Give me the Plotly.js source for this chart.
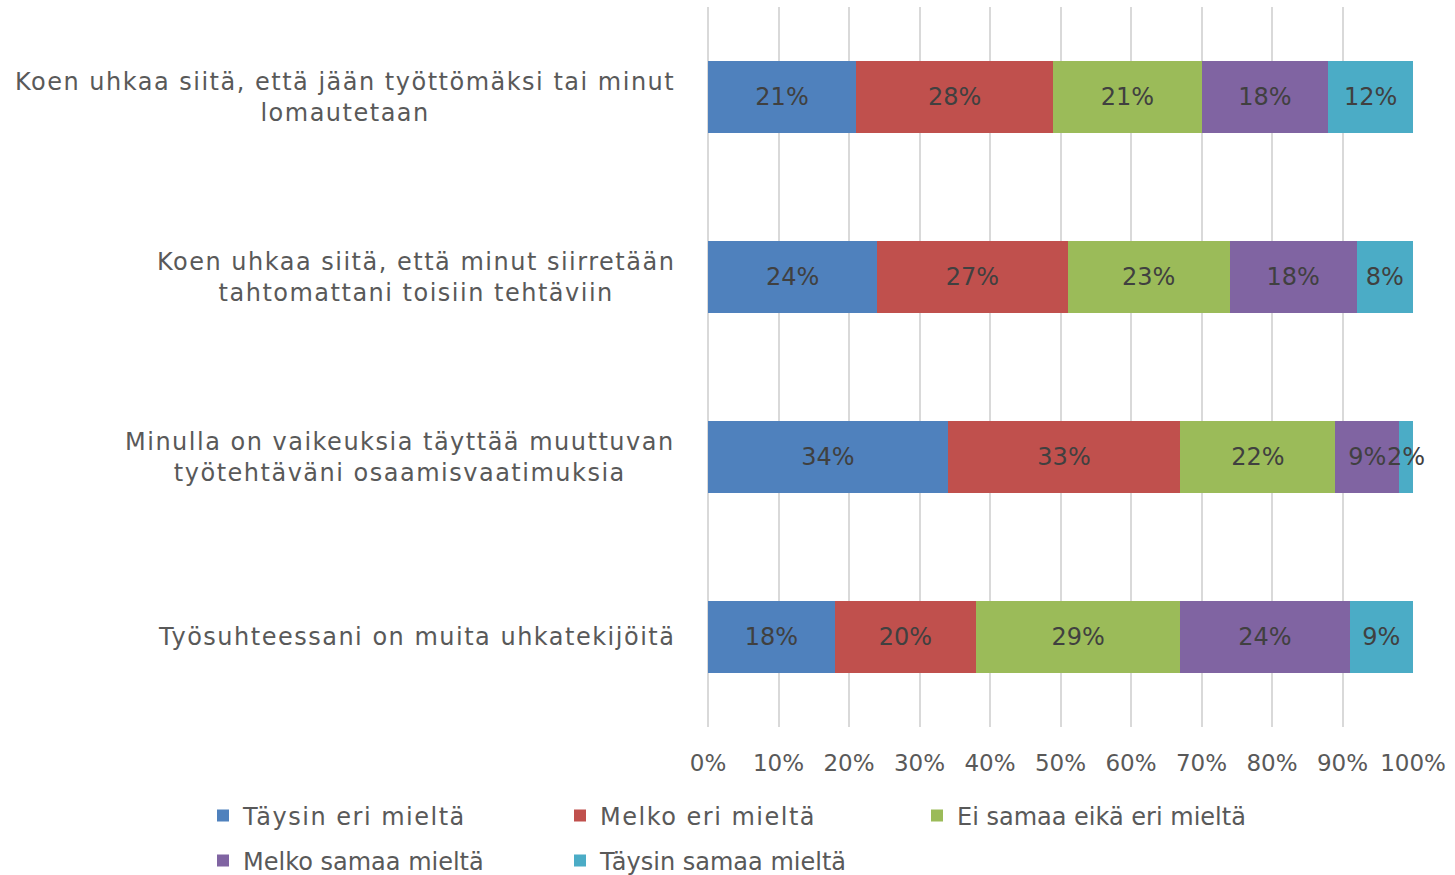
<!DOCTYPE html>
<html>
<head>
<meta charset="utf-8">
<script src="https://cdn.plot.ly/plotly-3.0.1.min.js"></script>
<style>
html,body{margin:0;padding:0;background:#fff;}
#chart{width:1455px;height:875px;}
.annotation-text, .legendtext { letter-spacing: 1.5px; }
</style>
</head>
<body>
<div id="chart"></div>
<script>
const categories = [
  "Koen uhkaa siitä, että jään työttömäksi tai minut<br>lomautetaan",
  "Koen uhkaa siitä, että minut siirretään<br>tahtomattani toisiin tehtäviin",
  "Minulla on vaikeuksia täyttää muuttuvan<br>työtehtäväni osaamisvaatimuksia",
  "Työsuhteessani on muita uhkatekijöitä"
];
const seriesNames = ["Täysin eri mieltä", "Melko eri mieltä", "Ei samaa eikä eri mieltä", "Melko samaa mieltä", "Täysin samaa mieltä"];
const taysinEri = [21, 24, 34, 18];
const melkoEri = [28, 27, 33, 20];
const eiSamaaEikaEri = [21, 23, 22, 29];
const melkoSamaa = [18, 18, 9, 24];
const taysinSamaa = [12, 8, 2, 9];
const tickValues = [0, 10, 20, 30, 40, 50, 60, 70, 80, 90, 100];
const tickLabels = ["0%", "10%", "20%", "30%", "40%", "50%", "60%", "70%", "80%", "90%", "100%"];

const seriesValues = [taysinEri, melkoEri, eiSamaaEikaEri, melkoSamaa, taysinSamaa];
const colors = ["#4F81BD", "#C0504D", "#9BBB59", "#8064A2", "#4BACC6"];
const legendOf = ["legend", "legend", "legend3", "legend2", "legend2"];
const FONT = "DejaVu Sans, sans-serif";

const traces = seriesValues.map((vals, i) => ({
  type: "bar",
  orientation: "h",
  name: seriesNames[i],
  legend: legendOf[i],
  y: categories,
  x: vals,
  marker: {color: colors[i], line: {width: 0}},
  text: vals.map(v => v + "%"),
  textposition: "inside",
  insidetextanchor: "middle",
  constraintext: "none",
  cliponaxis: false,
  textangle: 0,
  textfont: {family: FONT, size: 24, color: "#404040"},
  hoverinfo: "x+name"
}));

const annotations = categories.map(c => ({
  xref: "paper", yref: "y",
  x: -31/705, y: c,
  xanchor: "right", yanchor: "middle",
  align: "center",
  text: c,
  showarrow: false,
  font: {family: FONT, size: 24, color: "#595959"}
}));

const legendCommon = {
  orientation: "h",
  xanchor: "left",
  yanchor: "middle",
  entrywidth: 312,
  entrywidthmode: "pixels",
  traceorder: "normal",
  bgcolor: "rgba(0,0,0,0)",
  font: {family: FONT, size: 24, color: "#595959"}
};

const layout = {
  width: 1455, height: 875,
  margin: {l: 708, r: 42, t: 7, b: 148, autoexpand: false},
  paper_bgcolor: "#ffffff",
  plot_bgcolor: "#ffffff",
  barmode: "stack",
  bargap: 0.6,
  showlegend: true,
  xaxis: {
    range: [0, 100],
    tickvals: tickValues,
    ticktext: tickLabels,
    showgrid: true,
    gridcolor: "#D9D9D9",
    gridwidth: 2,
    zeroline: true,
    zerolinecolor: "#D9D9D9",
    zerolinewidth: 2,
    showline: false,
    ticks: "",
    ticklabelstandoff: 20,
    tickfont: {family: FONT, size: 23, color: "#595959"},
    fixedrange: true
  },
  yaxis: {
    type: "category",
    categoryorder: "array",
    categoryarray: categories,
    autorange: "reversed",
    showgrid: false,
    zeroline: false,
    showticklabels: false,
    ticks: "",
    fixedrange: true
  },
  legend: Object.assign({}, legendCommon, {x: (203 - 708) / 705, y: (727 - 816) / 720}),
  legend2: Object.assign({}, legendCommon, {x: (203 - 708) / 705, y: (727 - 861) / 720}),
  legend3: Object.assign({}, legendCommon, {entrywidth: 360, x: (917 - 708) / 705, y: (727 - 816) / 720}),
  annotations: annotations
};

Plotly.newPlot("chart", traces, layout, {displayModeBar: false, staticPlot: true});
</script>
</body>
</html>
